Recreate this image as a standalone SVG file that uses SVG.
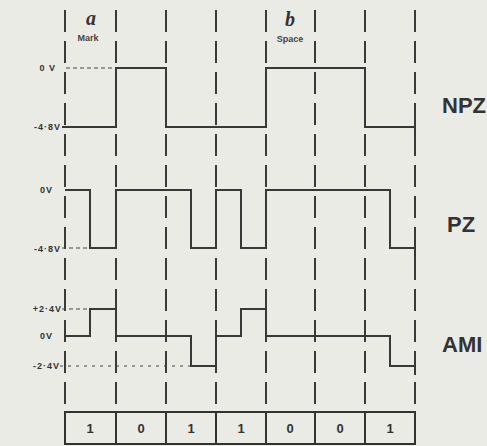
<svg xmlns="http://www.w3.org/2000/svg" width="487" height="446" viewBox="0 0 487 446">
<style>
.bg{fill:#ebebe6}
.grid{stroke:#3a3a3a;stroke-width:2;stroke-dasharray:22 9;fill:none}
.wave{stroke:#383838;stroke-width:2;fill:none}
.ref{stroke:#444;stroke-width:1;stroke-dasharray:4 3;fill:none}
.lvl{font-family:"Liberation Sans",Arial,sans-serif;font-weight:bold;font-size:9px;letter-spacing:1px;fill:#333;text-anchor:end}
.name{font-family:"Liberation Sans",Arial,sans-serif;font-weight:bold;font-size:22px;fill:#333}
.bit{font-family:"Liberation Sans",Arial,sans-serif;font-weight:bold;font-size:13px;fill:#333;text-anchor:middle}
.small{font-family:"Liberation Sans",Arial,sans-serif;font-weight:bold;font-size:9px;fill:#444;text-anchor:middle}
.hand{font-family:"Liberation Serif",serif;font-style:italic;font-weight:bold;font-size:20px;fill:#333;text-anchor:middle}
.box{stroke:#333;stroke-width:2;fill:none}
</style>
<rect class="bg" x="0" y="0" width="487" height="446"/>
<g id="connectors">
<g id="grid">
<line class="grid" x1="65" y1="10" x2="65" y2="412"/>
<line class="grid" x1="116" y1="10" x2="116" y2="412"/>
<line class="grid" x1="166" y1="10" x2="166" y2="412"/>
<line class="grid" x1="216" y1="10" x2="216" y2="412"/>
<line class="grid" x1="266" y1="10" x2="266" y2="412"/>
<line class="grid" x1="315" y1="10" x2="315" y2="412"/>
<line class="grid" x1="365" y1="10" x2="365" y2="412"/>
<line class="grid" x1="415" y1="10" x2="415" y2="412"/>
</g>
<g id="refs">
<line class="ref" x1="66" y1="68" x2="116" y2="68"/>
<line class="ref" x1="62" y1="248" x2="90" y2="248"/>
<line class="ref" x1="62" y1="309" x2="90" y2="309"/>
<line class="ref" x1="60" y1="366" x2="191" y2="366" style="stroke-dasharray:3 5"/>
</g>
</g>
<g id="header">
<text class="hand" x="91" y="25">a</text>
<text class="small" x="88" y="41">Mark</text>
<text class="hand" x="290" y="26">b</text>
<text class="small" x="290" y="42">Space</text>
</g>
<g id="npz">
<path class="wave" d="M62,127 H116 V68 H166 V127 H266 V68 H365 V127 H415 M415,118 V136"/>
<text class="lvl" x="56" y="71">0 V</text>
<text class="lvl" x="61" y="130">-4·8V</text>
<text class="name" x="442" y="113">NPZ</text>
</g>
<g id="pz">
<path class="wave" d="M65,190 H90 V248 H116 V190 H191 V248 H216 V190 H241 V248 H266 V190 H390 V248 H415 M415,240 V258"/>
<text class="lvl" x="53" y="193">0V</text>
<text class="lvl" x="61" y="252">-4·8V</text>
<text class="name" x="447" y="232">PZ</text>
</g>
<g id="ami">
<path class="wave" d="M65,336 H90 V309 H116 V336 H191 V366 H216 V336 H241 V309 H266 V336 H390 V366 H415 M415,358 V375"/>
<text class="lvl" x="62" y="312">+2·4V</text>
<text class="lvl" x="53" y="339">0V</text>
<text class="lvl" x="60" y="369">-2·4V</text>
<text class="name" x="442" y="352">AMI</text>
</g>
<g id="bits">
<rect class="box" x="65" y="412" width="350" height="32"/>
<path class="box" d="M116,412 V444 M166,412 V444 M216,412 V444 M266,412 V444 M315,412 V444 M365,412 V444"/>
<text class="bit" x="90" y="433">1</text>
<text class="bit" x="141" y="433">0</text>
<text class="bit" x="191" y="433">1</text>
<text class="bit" x="241" y="433">1</text>
<text class="bit" x="290" y="433">0</text>
<text class="bit" x="340" y="433">0</text>
<text class="bit" x="390" y="433">1</text>
</g>
</svg>
